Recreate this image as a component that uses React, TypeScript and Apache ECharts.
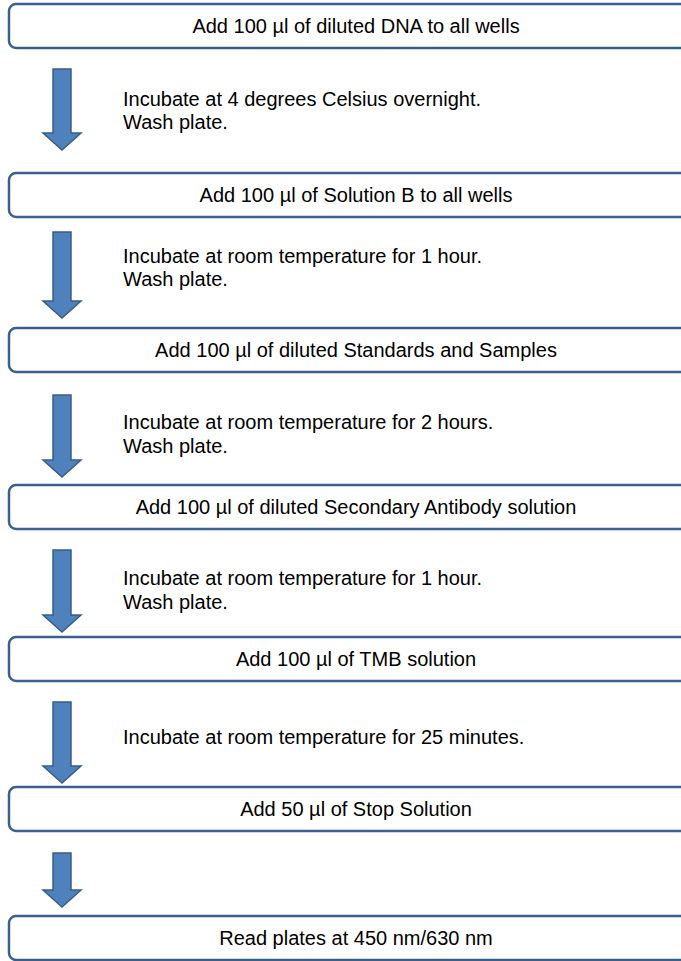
import React, { useEffect, useRef } from "react";
import * as echarts from "echarts";

// Step boxes (content)
const steps: string[] = [
  "Add 100 µl of diluted DNA to all wells",
  "Add 100 µl of Solution B to all wells",
  "Add 100 µl of diluted Standards and Samples",
  "Add 100 µl of diluted Secondary Antibody solution",
  "Add 100 µl of TMB solution",
  "Add 50 µl of Stop Solution",
  "Read plates at 450 nm/630 nm",
];

// Notes beside each arrow (between consecutive steps)
const notes: string[][] = [
  ["Incubate at 4 degrees Celsius overnight.", "Wash plate."],
  ["Incubate at room temperature for 1 hour.", "Wash plate."],
  ["Incubate at room temperature for 2 hours.", "Wash plate."],
  ["Incubate at room temperature for 1 hour.", "Wash plate."],
  ["Incubate at room temperature for 25 minutes."],
  [],
];

// Layout (positions in px)
const boxTops: number[] = [4, 173, 328, 485, 637, 787, 916];
const boxHeight = 44;
const arrowTops: number[] = [69, 232, 395, 550, 702, 853];
const arrowTips: number[] = [150, 318, 477, 632, 783, 907];
const noteCenters: number[] = [110.5, 267.5, 434, 590, 737, 0];

const FONT = '20px "Liberation Sans", Arial, sans-serif';

export default function App() {
  const ref = useRef<HTMLDivElement>(null);
  useEffect(() => {
    if (!ref.current) return;
    const chart = echarts.init(ref.current, undefined, { renderer: "svg" });
    const elements: any[] = [];
    const boxX = 9;
    const boxW = 694;
    const cx = boxX + boxW / 2;
    steps.forEach((label, i) => {
      const top = boxTops[i];
      elements.push({
        type: "rect",
        shape: { x: boxX, y: top, width: boxW, height: boxHeight, r: 7 },
        style: { fill: "#ffffff", stroke: "#3b5f8f", lineWidth: 2.5 },
      });
      elements.push({
        type: "text",
        x: cx,
        y: top + boxHeight / 2,
        style: {
          text: label,
          font: FONT,
          fill: "#000000",
          align: "center",
          verticalAlign: "middle",
        },
      });
    });
    arrowTops.forEach((top, i) => {
      const tip = arrowTips[i];
      const base = tip - 17;
      elements.push({
        type: "polygon",
        shape: {
          points: [
            [53, top],
            [71, top],
            [71, base],
            [81, base],
            [62, tip],
            [43, base],
            [53, base],
          ],
        },
        style: { fill: "#4f81bd", stroke: "#385d8a", lineWidth: 1.5 },
      });
      const lines = notes[i];
      if (lines && lines.length) {
        elements.push({
          type: "text",
          x: 123,
          y: noteCenters[i],
          style: {
            text: lines.join("\n"),
            font: FONT,
            lineHeight: 23.5,
            fill: "#000000",
            align: "left",
            verticalAlign: "middle",
          },
        });
      }
    });
    chart.setOption({
      animation: false,
      backgroundColor: "#ffffff",
      graphic: { elements },
    });
    return () => chart.dispose();
  }, []);
  return (
    <div
      ref={ref}
      style={{ position: "fixed", left: 0, top: 0, width: 681, height: 961 }}
    />
  );
}
